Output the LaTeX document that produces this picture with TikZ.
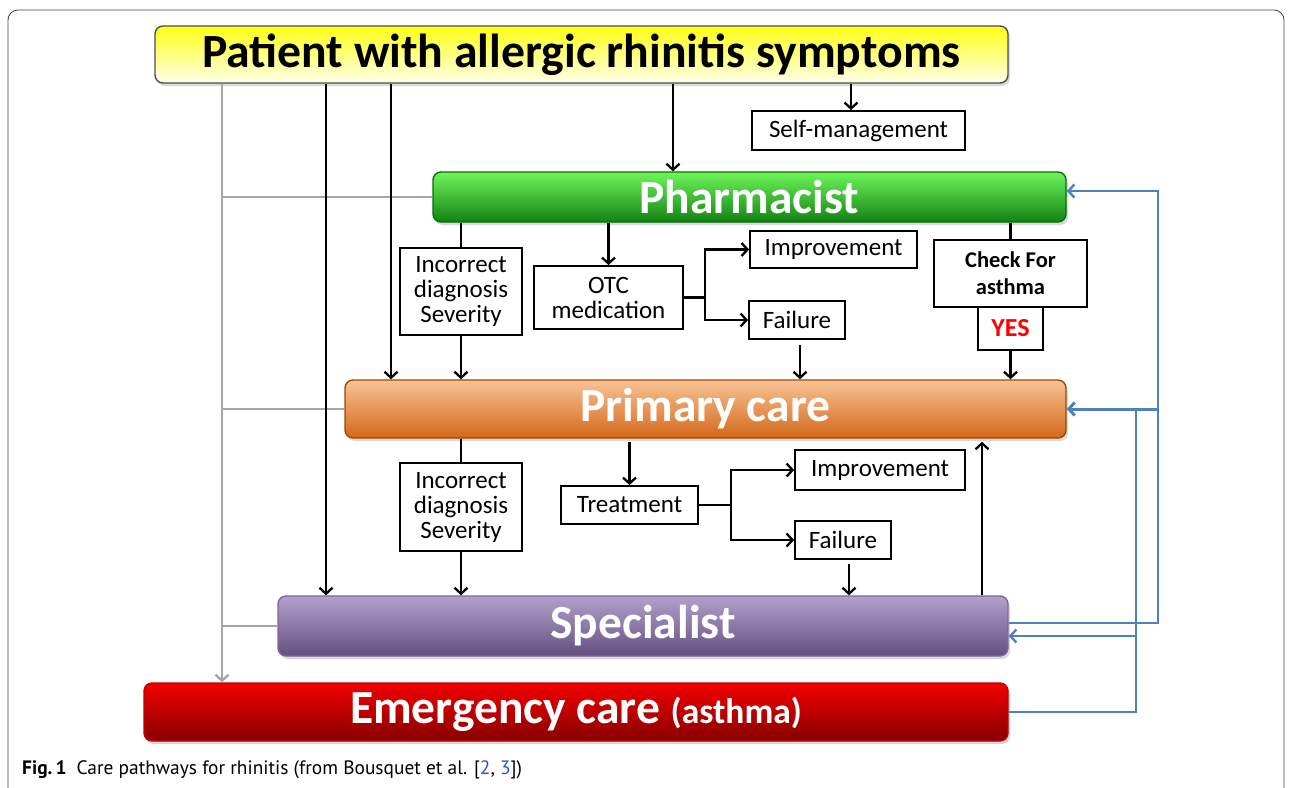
\documentclass[tikz,border=0pt]{standalone}
\usepackage{fontspec}
\setmainfont{Carlito}
\newfontfamily\capfont{PT Sans}
\usetikzlibrary{arrows.meta,shadows}
\definecolor{lineblue}{HTML}{4F81BD}
\definecolor{linegray}{HTML}{A6A6A6}
\definecolor{linkblue}{HTML}{2B4FE0}
\begin{document}
\begin{tikzpicture}[x=1pt,y=-1pt,
  arr/.style={-{Straight Barb[length=6pt,width=13pt]}},
  conn/.style={draw=black,line width=2.3pt},
  grayl/.style={draw=linegray,line width=2.4pt},
  bluel/.style={draw=lineblue,line width=2.4pt},
  box/.style={draw=black,line width=1.8pt,fill=white,align=center,inner sep=0pt,
    font=\fontsize{25}{25}\selectfont},
  big/.style={rounded corners=8pt,line width=1.4pt,inner sep=0pt,
    font=\bfseries\fontsize{47.5}{47.5}\selectfont,text=white,
    drop shadow={opacity=0.3,shadow xshift=2pt,shadow yshift=-3pt}},
]
\useasboundingbox (0,0) rectangle (1292,787);
\draw[draw=black!75,line width=0.8pt,rounded corners=10pt] (8,10) rectangle (1284,800);

% column coordinates
\coordinate (gx) at (222,0);
\coordinate (x326) at (326,0);
\coordinate (x391) at (391,0);
\coordinate (x673) at (673,0);
\coordinate (x851) at (851,0);
\coordinate (x800) at (800,0);
\coordinate (x849) at (849,0);
\coordinate (x982) at (982,0);
\coordinate (b1) at (1158,0);
\coordinate (b2) at (1136,0);

% main boxes
\node[big,draw=black!70,top color={rgb,255:red,255;green,255;blue,20},
  bottom color={rgb,255:red,255;green,255;blue,235},
  minimum width=853pt,minimum height=57pt,text=black,
  font=\bfseries\fontsize{47.7}{47.7}\selectfont] (patient) at (581.5,54.5)
  {Patient with allergic rhinitis symptoms};
\node[big,draw=green!45!black,top color={rgb,255:red,112;green,245;blue,92},
  bottom color={rgb,255:red,18;green,130;blue,18},
  minimum width=633pt,minimum height=50pt] (pharm) at (749.5,197) {Pharmacist};
\node[big,draw=orange!60!black,top color={rgb,255:red,248;green,195;blue,150},
  bottom color={rgb,255:red,212;green,104;blue,26},
  minimum width=721pt,minimum height=58pt] (prim) at (705.5,409) {Primary care};
\node[big,draw={rgb,255:red,128;green,100;blue,162},top color={rgb,255:red,178;green,161;blue,203},
  bottom color={rgb,255:red,100;green,80;blue,128},
  minimum width=730pt,minimum height=60pt] (spec) at (643,626) {Specialist};
\node[big,draw={rgb,255:red,192;green,0;blue,0},top color={rgb,255:red,242;green,0;blue,0},
  bottom color={rgb,255:red,135;green,0;blue,0},
  minimum width=864pt,minimum height=58pt] (emerg) at (576,712)
  {Emergency care {\fontsize{35.5}{35.5}\selectfont (asthma)}};

% small boxes
\node[box,minimum width=213pt,minimum height=39pt] (selfm) at (858.5,130.5) {Self-management};
\node[box,minimum width=122pt,minimum height=87pt] (inc1) at (461,291.5) {Incorrect\\diagnosis\\Severity};
\node[box,minimum width=149pt,minimum height=63pt] (otc) at (608.5,297.5) {OTC\\medication};
\node[box,minimum width=167pt,minimum height=37pt] (imp1) at (833.5,249.5) {Improvement};
\node[box,minimum width=96pt,minimum height=38pt] (fail1) at (797,320) {Failure};
\node[box,minimum width=153pt,minimum height=67pt,font=\bfseries\fontsize{22.5}{27}\selectfont] (check) at (1010.5,273.5) {Check For\\asthma};
\node[box,minimum width=65pt,minimum height=43pt,text=red,font=\bfseries\fontsize{26}{26}\selectfont] (yes) at (1010.5,328.5) {YES};
\node[box,minimum width=122pt,minimum height=88pt] (inc2) at (461,507) {Incorrect\\diagnosis\\Severity};
\node[box,minimum width=137pt,minimum height=38pt] (treat) at (629.5,505) {Treatment};
\node[box,minimum width=170pt,minimum height=40pt] (imp2) at (880,470) {Improvement};
\node[box,minimum width=96pt,minimum height=38pt] (fail2) at (843,540) {Failure};

\coordinate (j1) at (705,297.5);
\coordinate (j2) at (731,505);

% gray lines
\draw[grayl,arr] (patient.south -| gx) -- (emerg.north -| gx);
\draw[grayl] (pharm.west) -- (pharm.west -| gx);
\draw[grayl] (prim.west) -- (prim.west -| gx);
\draw[grayl] (spec.west) -- (spec.west -| gx);

% black connectors from patient
\draw[conn,arr] (patient.south -| x326) -- (spec.north -| x326);
\draw[conn,arr] (patient.south -| x391) -- (prim.north -| x391);
\draw[conn,arr] (patient.south -| x673) -- (pharm.north -| x673);
\draw[conn,arr] (patient.south -| x851) -- (selfm.north -| x851);

% pharmacist level
\draw[conn] (pharm.south -| inc1) -- (inc1.north);
\draw[conn,arr] (inc1.south) -- (prim.north -| inc1);
\draw[conn,arr] (pharm.south -| otc) -- (otc.north);
\draw[conn] (otc.east) -- (j1);
\draw[conn,arr] (j1) |- (imp1.west);
\draw[conn,arr] (j1) |- (fail1.west);
\draw[conn,arr] ([yshift=-5pt]fail1.south -| x800) -- (prim.north -| x800);
\draw[conn] (pharm.south -| check) -- (check.north);
\draw[conn,arr] (yes.south) -- (prim.north -| yes);

% primary care level
\draw[conn] (prim.south -| inc2) -- (inc2.north);
\draw[conn,arr] (inc2.south) -- (spec.north -| inc2);
\draw[conn,arr] ([yshift=-3pt]prim.south -| treat) -- (treat.north);
\draw[conn] (treat.east) -- (j2);
\draw[conn,arr] (j2) |- (imp2.west);
\draw[conn,arr] (j2) |- (fail2.west);
\draw[conn,arr] ([yshift=-4pt]fail2.south -| x849) -- (spec.north -| x849);
\draw[conn,arr] (spec.north -| x982) -- ([yshift=-3pt]prim.south -| x982);

% blue feedback lines
\coordinate (sout) at ([yshift=3pt]spec.east);
\coordinate (sin) at ([yshift=-10pt]spec.east);
\coordinate (pin) at ([yshift=6pt]pharm.east);
\draw[bluel,arr] (sout) -| (pin -| b1) -- (pin);
\draw[bluel,line width=3pt,arr] (prim.east -| b1) -- (prim.east);
\draw[bluel] (emerg.east) -| (prim.east -| b2);
\draw[bluel,arr] (sin -| b2) -- (sin);

% caption
\node[anchor=west,inner sep=0pt,font=\capfont\fontsize{19.4}{19.4}\selectfont] (cap) at (22,770)
  {\textbf{Fig.\,1}\hspace{10pt}Care pathways for rhinitis (from Bousquet et al. [\textcolor{linkblue}{2}, \textcolor{linkblue}{3}])};
\end{tikzpicture}
\end{document}
